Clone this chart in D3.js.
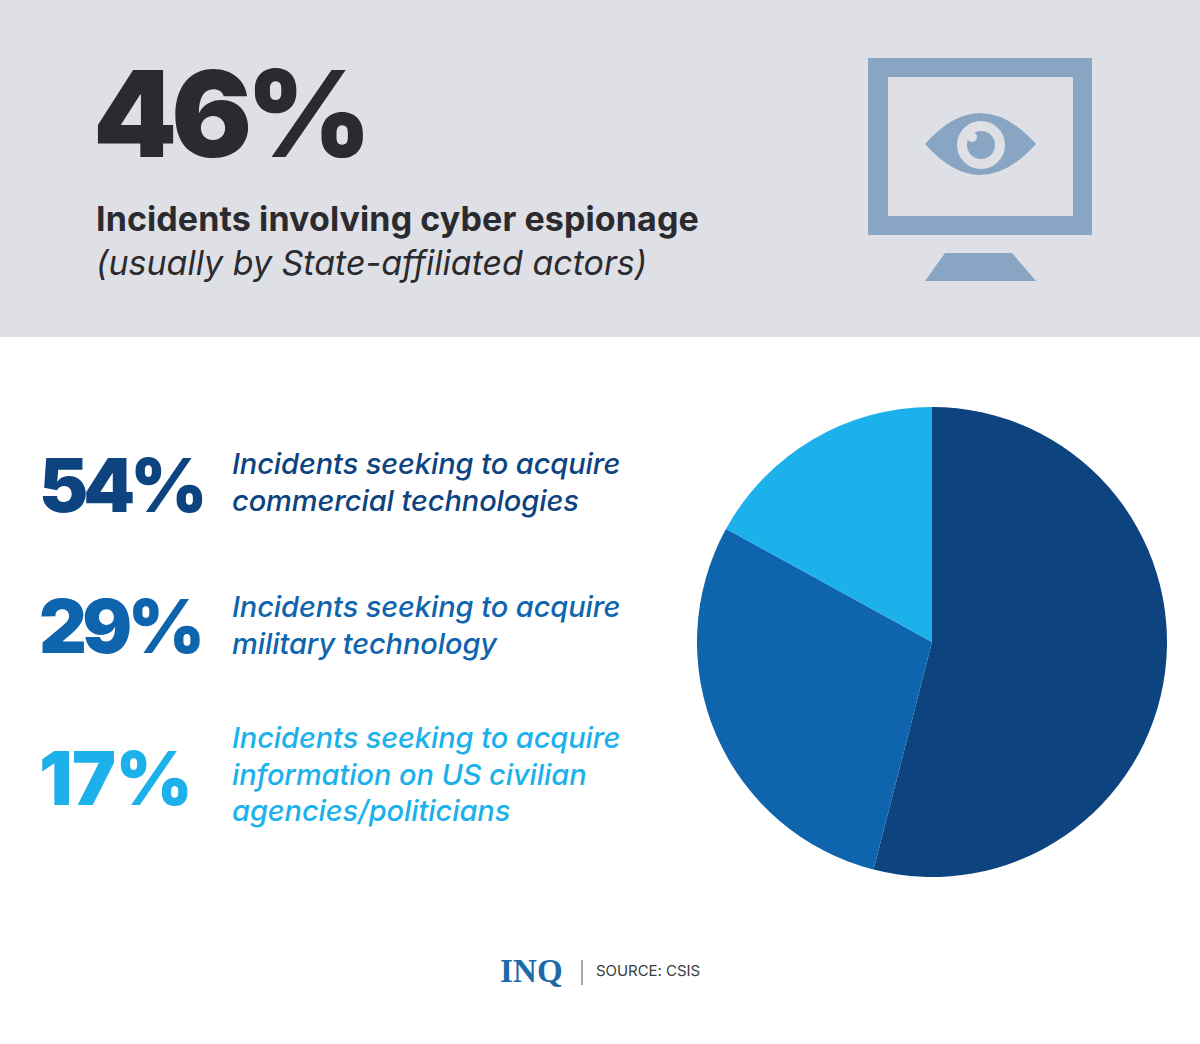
<!DOCTYPE html>
<html lang="en">
<head>
<meta charset="utf-8">
<title>Incidents involving cyber espionage</title>
<script src="https://d3js.org/d3.v7.min.js"></script>
<style>
html, body { margin: 0; padding: 0; background: #fff; }
svg { display: block; }
text { font-family: Inter, "Open Sans", sans-serif; }
</style>
</head>
<body>
<script>
// data
var categories = ["commercial", "military", "civilian"];
var values = [54, 29, 17];
var colors = ["#0d437f", "#0f65ad", "#1cb1eb"];
var labels = [
  ["Incidents seeking to acquire", "commercial technologies"],
  ["Incidents seeking to acquire", "military technology"],
  ["Incidents seeking to acquire", "information on US civilian", "agencies/politicians"]
];
var percentY = [512, 653, 805];
var percentSpacing = [-5, -4.5, -0.5];
var labelY = [474, 617, 748];

var w = 1200, h = 1044;
var svg = d3.select("body").append("svg").attr("width", w).attr("height", h);

// top banner
svg.append("rect").attr("width", w).attr("height", 337).attr("fill", "#dfe0e6");

svg.append("text").attr("x", 93).attr("y", 157)
  .attr("font-size", 120).attr("font-weight", 900).attr("letter-spacing", -6)
  .attr("fill", "#2b2b2f").text("46%");
svg.append("text").attr("x", 96).attr("y", 231)
  .attr("font-size", 34).attr("font-weight", 700).attr("letter-spacing", 0.1)
  .attr("fill", "#2b2b2f").text("Incidents involving cyber espionage");
svg.append("text").attr("x", 96).attr("y", 275)
  .attr("font-size", 34).attr("font-style", "italic").attr("font-weight", 400)
  .attr("fill", "#2b2b2f").text("(usually by State-affiliated actors)");

// monitor icon
var iconColor = "#89a5c4";
var icon = svg.append("g");
icon.append("path").attr("fill", iconColor).attr("fill-rule", "evenodd")
  .attr("d", "M868,58H1092V235H868Z M888,77V216H1073V77Z");
icon.append("path").attr("fill", iconColor)
  .attr("d", "M945,253H1012L1036,281H925Z");
icon.append("path").attr("fill", iconColor)
  .attr("d", "M925,144Q980,82 1036,144Q980,206 925,144Z");
icon.append("circle").attr("cx", 981).attr("cy", 145).attr("r", 24).attr("fill", "#dfe0e6");
icon.append("circle").attr("cx", 981).attr("cy", 145).attr("r", 14).attr("fill", iconColor);
icon.append("circle").attr("cx", 972).attr("cy", 137).attr("r", 5).attr("fill", "#dfe0e6");

// left legend rows
var rows = svg.selectAll("g.row").data(values).enter().append("g").attr("class", "row");
rows.append("text").attr("x", 39).attr("y", function(d, i) { return percentY[i]; })
  .attr("font-size", 74).attr("font-weight", 900)
  .attr("letter-spacing", function(d, i) { return percentSpacing[i]; })
  .attr("fill", function(d, i) { return colors[i]; })
  .text(function(d) { return d + "%"; });
rows.each(function(d, i) {
  d3.select(this).selectAll("text.label").data(labels[i]).enter().append("text")
    .attr("class", "label").attr("x", 232)
    .attr("y", function(s, j) { return labelY[i] + j * 36.5; })
    .attr("font-size", 29).attr("font-style", "italic").attr("font-weight", 500).attr("letter-spacing", -0.08)
    .attr("fill", colors[i]).text(function(s) { return s; });
});

// pie
var pie = d3.pie().sort(null);
var arc = d3.arc().innerRadius(0).outerRadius(235);
svg.append("g").attr("transform", "translate(932,642)")
  .selectAll("path").data(pie(values)).enter().append("path")
  .attr("d", arc).attr("fill", function(d, i) { return colors[i]; });

// footer
svg.append("text").attr("x", 500).attr("y", 982)
  .attr("style", "font-family:'Liberation Serif'")
  .attr("font-size", 33).attr("font-weight", 700).attr("letter-spacing", 0.2).attr("fill", "#1c6aa9").text("INQ");
svg.append("line").attr("x1", 582).attr("x2", 582).attr("y1", 960).attr("y2", 985)
  .attr("stroke", "#8a8d92").attr("stroke-width", 1.5);
svg.append("text").attr("x", 596).attr("y", 976)
  .attr("font-size", 15).attr("letter-spacing", -0.05).attr("fill", "#3a3d42").text("SOURCE: CSIS");
</script>
</body>
</html>
